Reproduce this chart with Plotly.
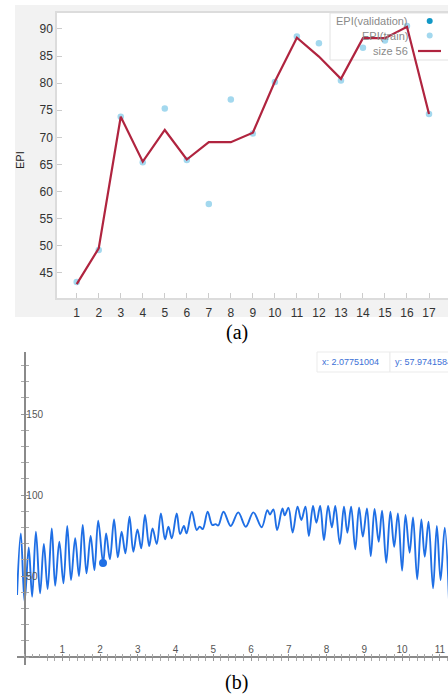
import plotly.graph_objects as go

# ---------------- data: panel (a) ----------------
epochs = list(range(1, 18))
epi_train = [43.3, 49.2, 73.8, 65.4, 75.3, 65.8, 57.7, 77.0, 70.7, 80.2, 88.6, 87.35, 80.5, 86.55, 87.85, 90.55, 74.3]
epi_size56 = [42.9, 49.5, 73.8, 65.5, 71.35, 65.9, 69.1, 69.1, 70.85, 80.3, 88.4, 84.9, 80.8, 88.3, 88.3, 90.4, 74.3]
a_yticks = [45, 50, 55, 60, 65, 70, 75, 80, 85, 90]
legend_names = ["EPI(validation)", "EPI(train)", "size 56"]

# ---------------- data: panel (b) (curve extrema) ----------------
wave_x = [-0.20, -0.10, 0.00, 0.11, 0.20, 0.30, 0.41, 0.51, 0.61, 0.72, 0.81, 0.92, 1.03, 1.13, 1.23, 1.34,
          1.44, 1.54, 1.64, 1.75, 1.85, 1.95, 2.08, 2.16, 2.26, 2.37, 2.47, 2.57, 2.67, 2.78, 2.88, 2.99,
          3.09, 3.19, 3.30, 3.39, 3.50, 3.61, 3.72, 3.81, 3.90, 4.03, 4.12, 4.22, 4.29, 4.43, 4.56, 4.64,
          4.72, 4.85, 4.97, 5.06, 5.13, 5.27, 5.46, 5.66, 5.86, 6.06, 6.28, 6.43, 6.50, 6.59, 6.69, 6.83,
          6.89, 6.99, 7.10, 7.23, 7.33, 7.44, 7.53, 7.64, 7.73, 7.83, 7.93, 8.04, 8.14, 8.23, 8.35, 8.46,
          8.55, 8.65, 8.76, 8.86, 8.96, 9.07, 9.17, 9.27, 9.38, 9.47, 9.58, 9.69, 9.79, 9.89, 10.00, 10.09,
          10.20, 10.29, 10.40, 10.51, 10.60, 10.70, 10.82, 10.92, 11.02, 11.13, 11.25]
wave_y = [38.3, 76.3, 34.1, 67.7, 37.2, 77.3, 39.3, 69.8, 42.0, 79.4, 44.0, 71.2, 45.5, 80.9, 47.5, 73.3,
          50.0, 81.5, 51.7, 74.7, 53.7, 84.2, 58.0, 76.3, 60.3, 84.9, 61.5, 77.3, 64.0, 86.6, 65.0, 78.8,
          67.1, 87.7, 68.5, 79.4, 69.8, 88.7, 72.6, 80.4, 73.3, 88.7, 75.9, 80.9, 76.3, 89.7, 78.4, 80.5,
          79.0, 89.7, 81.5, 82.0, 81.2, 89.7, 80.9, 89.3, 80.4, 89.3, 80.1, 90.7, 88.0, 91.1, 78.4, 91.7,
          87.5, 92.1, 76.9, 92.8, 84.6, 92.8, 74.7, 93.2, 82.9, 93.2, 72.2, 93.2, 80.0, 93.2, 69.8, 92.8,
          76.7, 92.8, 66.5, 92.4, 74.3, 91.7, 62.3, 91.4, 71.2, 90.3, 58.2, 89.7, 68.1, 88.7, 53.3, 87.7,
          64.4, 86.2, 48.0, 84.9, 61.9, 83.5, 42.4, 80.9, 47.5, 79.9, 30.0]
hover_x = [2.07751004]
hover_y = [57.9741584]
b_xticks = [1, 2, 3, 4, 5, 6, 7, 8, 9, 10, 11]
b_yticks = [50, 100, 150]

W, H = 448, 696


def px(v):
    return v / W


def py(v):
    return 1 - v / H


LINE_RED = "#b0243f"
TRAIN_BLUE = "#a3d8ee"
VAL_BLUE = "#1198c6"
WAVE_BLUE = "#1f6fe5"
SANS = "Liberation Sans, Arial, sans-serif"

fig = go.Figure()

# panel (a)
fig.add_trace(go.Scatter(x=epochs, y=epi_train, mode="markers", name=legend_names[1],
                         marker=dict(color=TRAIN_BLUE, size=6.5), xaxis="x", yaxis="y", showlegend=False))
fig.add_trace(go.Scatter(x=epochs, y=epi_size56, mode="lines", name=legend_names[2],
                         line=dict(color=LINE_RED, width=2.2), xaxis="x", yaxis="y", showlegend=False))

# panel (b)
fig.add_trace(go.Scatter(x=wave_x, y=wave_y, mode="lines",
                         line=dict(color=WAVE_BLUE, width=1.9, shape="spline", smoothing=1.0),
                         xaxis="x2", yaxis="y2", showlegend=False))
fig.add_trace(go.Scatter(x=hover_x, y=hover_y, mode="markers", marker=dict(color=WAVE_BLUE, size=8),
                         xaxis="x2", yaxis="y2", showlegend=False))
# empty trace to carry the overlay axes (second half of crossing ticks)
fig.add_trace(go.Scatter(x=[], y=[], xaxis="x3", yaxis="y3", showlegend=False))

tickfont_a = dict(family=SANS, size=12, color="#333333")
tickfont_b = dict(family=SANS, size=10, color="#555555")

b_x_pos = py(657)
b_y_pos = px(24.6)

fig.update_layout(
    width=W, height=H,
    margin=dict(l=0, r=0, t=0, b=0),
    paper_bgcolor="white",
    plot_bgcolor="rgba(0,0,0,0)",
    showlegend=False,
    xaxis=dict(domain=[px(57), 1], range=[0.105, 17.863], anchor="y",
               tickmode="array", tickvals=epochs, ticks="inside", ticklen=5, tickcolor="#cccccc",
               showline=True, linecolor="#dcdcdc", linewidth=1.5, mirror=True,
               showgrid=False, zeroline=False, tickfont=tickfont_a, ticklabelstandoff=3),
    yaxis=dict(domain=[py(298), py(13)], range=[40.33, 92.95], anchor="x",
               tickmode="array", tickvals=a_yticks, ticks="inside", ticklen=5, tickcolor="#cccccc",
               showline=True, linecolor="#dcdcdc", linewidth=1.5, mirror=False,
               showgrid=False, zeroline=False, tickfont=tickfont_a),
    xaxis2=dict(domain=[px(17), 1], range=[-0.201, 11.216], anchor="free", position=b_x_pos,
                tickmode="array", tickvals=b_xticks, ticks="outside", ticklen=3, tickcolor="#999999",
                minor=dict(tickmode="linear", tick0=0, dtick=0.2, ticks="outside", ticklen=3, tickcolor="#aaaaaa"),
                ticklabelposition="inside", tickfont=tickfont_b,
                showline=True, linecolor="#8a8a8a", linewidth=1.5,
                showgrid=False, zeroline=False),
    yaxis2=dict(domain=[py(665), py(352)], range=[-4.94, 188.3], anchor="free", position=b_y_pos,
                side="left", tickmode="array", tickvals=b_yticks, ticks="outside", ticklen=3, tickcolor="#999999",
                minor=dict(tickmode="linear", tick0=0, dtick=10, ticks="outside", ticklen=3, tickcolor="#aaaaaa"),
                ticklabelposition="inside", tickfont=tickfont_b,
                showline=True, linecolor="#8a8a8a", linewidth=1.5,
                showgrid=False, zeroline=False),
    xaxis3=dict(overlaying="x2", matches="x2", anchor="free", position=b_x_pos,
                tickmode="array", tickvals=b_xticks, ticks="inside", ticklen=3, tickcolor="#999999",
                minor=dict(tickmode="linear", tick0=0, dtick=0.2, ticks="inside", ticklen=3, tickcolor="#aaaaaa"),
                showticklabels=False, showline=False, showgrid=False, zeroline=False),
    yaxis3=dict(overlaying="y2", matches="y2", anchor="free", position=b_y_pos, side="left",
                tickmode="array", tickvals=b_yticks, ticks="inside", ticklen=3, tickcolor="#999999",
                minor=dict(tickmode="linear", tick0=0, dtick=10, ticks="inside", ticklen=3, tickcolor="#aaaaaa"),
                showticklabels=False, showline=False, showgrid=False, zeroline=False),
)

shapes = [
    # grey frame behind panel (a)
    dict(type="rect", xref="paper", yref="paper", x0=px(15), x1=1, y0=py(317), y1=py(5),
         fillcolor="#f2f2f2", line=dict(width=0), layer="below"),
    # white plot area of panel (a)
    dict(type="rect", xref="paper", yref="paper", x0=px(57), x1=1, y0=py(298), y1=py(13),
         fillcolor="white", line=dict(width=0), layer="below"),
    # legend box
    dict(type="rect", xref="paper", yref="paper", x0=px(330), x1=1.01, y0=py(60), y1=py(13),
         fillcolor="white", line=dict(color="#e2e2e2", width=1), layer="below"),
    # legend symbols
    dict(type="circle", xref="paper", yref="paper", xsizemode="pixel", ysizemode="pixel",
         xanchor=px(429.7), yanchor=py(21), x0=-3, x1=3, y0=-3, y1=3,
         fillcolor=VAL_BLUE, line=dict(width=0)),
    dict(type="circle", xref="paper", yref="paper", xsizemode="pixel", ysizemode="pixel",
         xanchor=px(429.7), yanchor=py(35.5), x0=-3, x1=3, y0=-3, y1=3,
         fillcolor=TRAIN_BLUE, line=dict(width=0)),
    dict(type="line", xref="paper", yref="paper", x0=px(418), x1=px(441), y0=py(51), y1=py(51),
         line=dict(color=LINE_RED, width=2.2)),
    # hover readout boxes of panel (b)
    dict(type="rect", xref="paper", yref="paper", x0=px(317), x1=px(390), y0=py(372), y1=py(352),
         fillcolor="white", line=dict(color="#ebebeb", width=1)),
    dict(type="rect", xref="paper", yref="paper", x0=px(390), x1=1.05, y0=py(372), y1=py(352),
         fillcolor="white", line=dict(color="#ebebeb", width=1)),
]

legend_y = [21, 35.5, 51]
annotations = [
    dict(text="EPI", x=px(20), y=py(160), xref="paper", yref="paper", showarrow=False, textangle=-90,
         font=dict(family=SANS, size=11, color="#222222"), xanchor="center", yanchor="middle"),
    dict(text="(a)", x=px(237), y=py(332), xref="paper", yref="paper", showarrow=False,
         font=dict(family="Liberation Serif, Times New Roman, serif", size=20, color="black"),
         xanchor="center", yanchor="middle"),
    dict(text="(b)", x=px(237), y=py(682), xref="paper", yref="paper", showarrow=False,
         font=dict(family="Liberation Serif, Times New Roman, serif", size=20, color="black"),
         xanchor="center", yanchor="middle"),
    dict(text=f"x: {hover_x[0]:.8f}", x=px(320), y=py(362), xref="paper", yref="paper", showarrow=False,
         font=dict(family=SANS, size=9, color="#3b6fd6"), xanchor="left", yanchor="middle"),
    dict(text=f"y: {hover_y[0]:.7f}", x=px(393), y=py(362), xref="paper", yref="paper", showarrow=False,
         font=dict(family=SANS, size=9, color="#3b6fd6"), xanchor="left", yanchor="middle"),
]
for name, ly in zip(legend_names, legend_y):
    annotations.append(dict(text=name, x=px(410), y=py(ly), xref="paper", yref="paper", showarrow=False,
                            font=dict(family=SANS, size=11, color="#8a8a8a"),
                            xanchor="right", yanchor="middle"))

fig.update_layout(shapes=shapes, annotations=annotations)

fig.write_html("out.html")
